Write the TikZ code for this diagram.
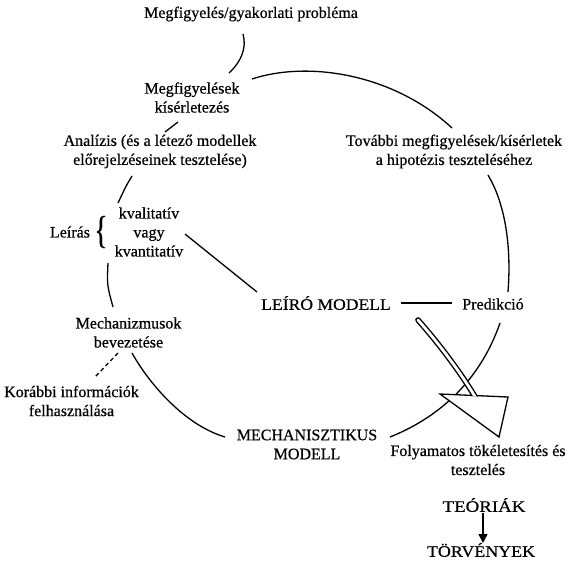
\documentclass[tikz,border=0pt]{standalone}
\usepackage{fontspec}
\setmainfont[FakeBold=0.5]{Liberation Serif}
\usetikzlibrary{arrows.meta}
\begin{document}
\begin{tikzpicture}[x=1pt,y=-1pt,
  txt/.style={align=center, inner sep=0pt, font=\fontsize{16}{19}\selectfont},
  link/.style={line width=1.3pt},
  arc/.style={line width=1.3pt},
]
\useasboundingbox (0,0) rectangle (570,563);

% ---- labels ----
\node[txt] (prob)    at (251,14)    {Megfigyelés/gyakorlati probléma};
\node[txt] (obs)     at (192,97.5)  {Megfigyelések\\kísérletezés};
\node[txt] (anal)    at (160,151.5) {Analízis (és a létező modellek\\előrejelzéseinek tesztelése)};
\node[txt] (further) at (454,151.5) {További megfigyelések/kísérletek\\a hipotézis teszteléséhez};
\node[txt] (desc)    at (70,232)    {Leírás};
\node[txt] (brace)   at (101,232)   {\fontsize{39}{39}\selectfont\scalebox{0.7}[1]{\{}};
\node[txt] (kind)    at (149,232)   {kvalitatív\\vagy\\kvantitatív};
\node[txt] (dmodel)  at (326,303)   {\scalebox{1.1}[1]{LEÍRÓ MODELL}};
\node[txt] (pred)    at (493,304)   {Predikció};
\node[txt] (mechin)  at (128.5,332.5) {Mechanizmusok\\bevezetése};
\node[txt] (prev)    at (71.5,401)  {Korábbi információk\\felhasználása};
\node[txt] (mmodel)  at (307,444.5) {MECHANISZTIKUS\\MODELL};
\node[txt] (refine)  at (478,460)   {Folyamatos tökéletesítés és\\tesztelés};
\node[txt] (theo)    at (484,505)   {\scalebox{1.18}[1]{TEÓRIÁK}};
\node[txt] (laws)    at (481,550)   {\scalebox{1.12}[1]{TÖRVÉNYEK}};

% ---- connector end points ----
\coordinate (p1) at (243,34);   \coordinate (o1) at (229,73);
\coordinate (o2) at (252,79);   \coordinate (f1) at (452,128);
\coordinate (f2) at (488,175);  \coordinate (pr1) at (508,292);
\coordinate (o3) at (178,122);  \coordinate (a1) at (165,132);
\coordinate (a2) at (132,176);  \coordinate (k1) at (118,203);
\coordinate (k2) at (108,263);  \coordinate (m1) at (113,307);
\coordinate (k3) at (185,234);  \coordinate (d1) at (257,292);
\coordinate (d2) at (401,303);  \coordinate (pr2) at (452,303);
\coordinate (pr3) at (500,323); \coordinate (mm1) at (390,437);
\coordinate (m2) at (132,353);  \coordinate (mm2) at (225,437);
\coordinate (m3) at (118,353);  \coordinate (pv1) at (95,377);
\coordinate (sh1) at (418,320); \coordinate (sh2) at (477,400);

% ---- cycle ----
\draw[arc] (p1) .. controls (247,48) and (241,62) .. (o1);
\draw[arc] (o2) .. controls (310,60) and (395,75) .. (f1);
\draw[arc] (f2) .. controls (503,200) and (512,240) .. (pr1);
\draw[link] (o3) -- (a1);
\draw[arc] (a2) .. controls (126,186) .. (k1);
\draw[arc] (k2) .. controls (107,285) .. (m1);
\draw[link] (k3) -- (d1);
\draw[link] (d2) -- (pr2);
\draw[arc] (pr3) .. controls (482,375) and (445,415) .. (mm1);
\draw[arc] (m2) .. controls (150,385) and (185,425) .. (mm2);
\draw[link, dashed, dash pattern=on 4pt off 3pt] (m3) -- (pv1);

% ---- hollow arrow: head, then open shaft ----
\draw[link, fill=white, line join=miter] (440,394) -- (508,397) -- (499,437) -- cycle;
\begin{scope}
  \clip (380,280) -- (560,280) -- (560,399.9) -- (400,392.8) -- cycle;
  \draw[line width=5.6pt, line cap=round] (sh1) .. controls (441,346) and (463,376) .. (sh2);
  \draw[white, line width=2.8pt, line cap=round] (sh1) .. controls (441,346) and (463,376) .. (sh2);
\end{scope}

% ---- theories to laws ----
\draw[link, -{Triangle[length=9pt,width=9pt]}] (483,513) -- (483,543);
\end{tikzpicture}
\end{document}
